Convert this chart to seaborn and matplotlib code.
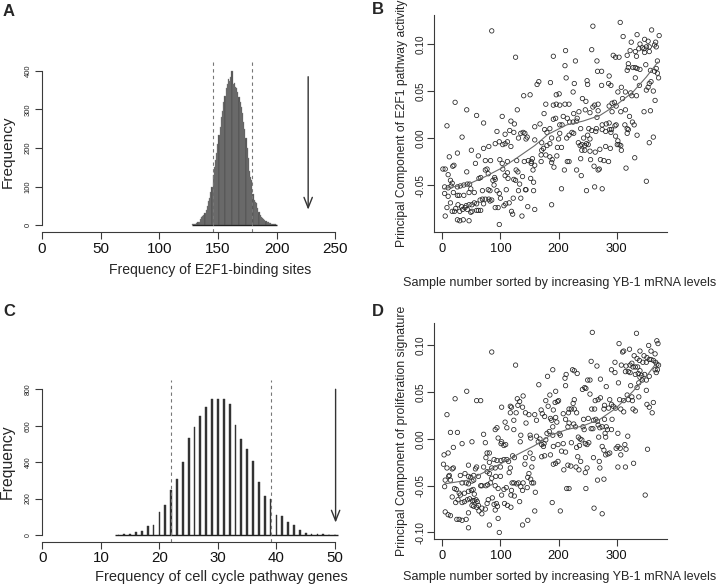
import numpy as np
import pandas as pd
import matplotlib
matplotlib.use("Agg")
import matplotlib.pyplot as plt
import seaborn as sns

sns.set_style("ticks")
plt.rcParams["font.family"] = ["Liberation Sans", "DejaVu Sans"]

W, H = 720, 588

# ---- panel A: permutation counts of E2F1-binding sites
e2f1_sites = list(range(128, 201))
e2f1_freq = [2, 2, 3, 4, 5, 7, 9, 15, 20, 24, 27, 32, 38, 50, 62, 70, 85, 100, 130, 150,
             170, 186, 210, 235, 255, 280, 295, 320, 335, 355, 365, 378, 375, 385, 400, 365, 370, 358, 355, 345,
             333, 320, 307, 290, 268, 250, 225, 200, 175, 140, 125, 117, 80, 65, 60, 56, 45, 33, 27, 22,
             18, 15, 12, 10, 8, 7, 5, 5, 4, 3, 2, 2, 1]
e2f1_cutoffs = [146, 179]
e2f1_observed = 227
e2f1_arrow = [385, 40]

# ---- panel C: permutation counts of cell cycle pathway genes
cc_genes = list(range(13, 51))
cc_freq = [1, 4, 4, 15, 22, 50, 55, 125, 163, 247, 308, 403, 533, 595, 653, 705, 749, 749, 749, 720,
           602, 527, 474, 405, 289, 214, 198, 112, 104, 73, 53, 27, 13, 7, 5, 4, 2, 2]
cc_cutoffs = [22, 39]
cc_observed = 50.1
cc_arrow = [800, 68]

# ---- panel B: E2F1 pathway activity vs sample rank
b_points = [
    (85, 0.114), (126, 0.086), (191, 0.087), (166, 0.060), (163, 0.057), (186, 0.059), (140, 0.045), (151, 0.046),
    (22, 0.038), (42, 0.030), (129, 0.030), (59, 0.024), (178, 0.036), (191, 0.035), (103, 0.023), (8, 0.013),
    (71, 0.016), (118, 0.018), (124, 0.015), (175, 0.026),
    (34, 0.001), (94, 0.007), (108, 0.004), (116, 0.008), (123, 0.006), (135, 0.005), (139, 0.006), (142, 0.005),
    (146, 0.001), (159, 0.012), (168, 0.015), (176, 0.009), (180, 0.006), (185, 0.010), (191, 0.020),
    (98, -0.004), (91, -0.006), (80, -0.009), (50, -0.013), (71, -0.011), (104, -0.007), (108, -0.006), (112, -0.004),
    (118, -0.009), (131, 0.000), (144, -0.001), (159, -0.002), (171, -0.005), (174, -0.011), (180, -0.008),
    (185, -0.006), (188, 0.000),
    (26, -0.016), (12, -0.020), (62, -0.019), (74, -0.024), (83, -0.024), (99, -0.023), (103, -0.027), (112, -0.025),
    (128, -0.024), (141, -0.025), (148, -0.024), (153, -0.025), (155, -0.022), (170, -0.018), (178, -0.018),
    (171, -0.013), (185, -0.020), (189, -0.023),
    (1, -0.033), (5, -0.033), (18, -0.030), (20, -0.029), (10, -0.039), (42, -0.036), (57, -0.027), (74, -0.034),
    (77, -0.033), (104, -0.033), (112, -0.037), (127, -0.034), (130, -0.036), (153, -0.027), (156, -0.034),
    (159, -0.029), (170, -0.025), (188, -0.026), (192, -0.031),
    (14, -0.045), (17, -0.048), (4, -0.052), (10, -0.053), (15, -0.051), (26, -0.052), (31, -0.051), (37, -0.050),
    (43, -0.049), (47, -0.049), (63, -0.043), (66, -0.042), (79, -0.038), (87, -0.045), (91, -0.044), (90, -0.042),
    (89, -0.050), (108, -0.040), (113, -0.043), (123, -0.044), (126, -0.045), (138, -0.041), (152, -0.043),
    (157, -0.047), (133, -0.049), (131, -0.056), (144, -0.055), (157, -0.056),
    (4, -0.059), (10, -0.062), (19, -0.058), (26, -0.061), (29, -0.061), (37, -0.061), (46, -0.058), (49, -0.054),
    (55, -0.058), (69, -0.056), (79, -0.055), (82, -0.056), (94, -0.056), (98, -0.059), (100, -0.064), (110, -0.055),
    (122, -0.064), (135, -0.064), (143, -0.055),
    (14, -0.069), (8, -0.074), (5, -0.083), (23, -0.075), (27, -0.071), (33, -0.073), (41, -0.072), (46, -0.071),
    (51, -0.071), (55, -0.069), (59, -0.070), (65, -0.066), (69, -0.065), (74, -0.065), (80, -0.065), (82, -0.067),
    (85, -0.066), (71, -0.070), (106, -0.072), (109, -0.070), (115, -0.069), (119, -0.078), (121, -0.081),
    (137, -0.083), (147, -0.073), (159, -0.076), (188, -0.071),
    (17, -0.078), (21, -0.078), (30, -0.078), (35, -0.076), (39, -0.074), (43, -0.076), (49, -0.079), (51, -0.078),
    (59, -0.077), (62, -0.077), (66, -0.077), (91, -0.074), (96, -0.074), (26, -0.087), (30, -0.088), (36, -0.087),
    (46, -0.088), (98, -0.092),
    (259, 0.119), (306, 0.123), (311, 0.108), (335, 0.110), (360, 0.115), (348, 0.105), (354, 0.103), (367, 0.102),
    (373, 0.109), (340, 0.100), (338, 0.095), (344, 0.096), (347, 0.095), (351, 0.097), (356, 0.097), (365, 0.099),
    (368, 0.097), (325, 0.102), (323, 0.093), (318, 0.088), (332, 0.092), (334, 0.087), (348, 0.091), (356, 0.092),
    (257, 0.094), (294, 0.088), (298, 0.086), (304, 0.086), (266, 0.082), (229, 0.082), (212, 0.093), (211, 0.077),
    (320, 0.079), (320, 0.075), (328, 0.075), (332, 0.075), (335, 0.074), (340, 0.073), (318, 0.072), (267, 0.071),
    (274, 0.071), (287, 0.066), (370, 0.082), (368, 0.074), (370, 0.069), (365, 0.071), (372, 0.064), (358, 0.072),
    (350, 0.078),
    (213, 0.064), (227, 0.058), (249, 0.061), (250, 0.057), (274, 0.056), (286, 0.058), (290, 0.056), (308, 0.054),
    (315, 0.049), (332, 0.064), (339, 0.056), (324, 0.048), (326, 0.045), (302, 0.049), (351, 0.051), (354, 0.054),
    (359, 0.060), (356, 0.058), (366, 0.040), (363, 0.050), (358, 0.029),
    (201, 0.047), (196, 0.046), (225, 0.049), (196, 0.036), (202, 0.035), (211, 0.036), (218, 0.036), (241, 0.042),
    (247, 0.039), (262, 0.035), (268, 0.036), (259, 0.033), (287, 0.034), (292, 0.037), (296, 0.038), (310, 0.042),
    (299, 0.034), (246, 0.030), (235, 0.028), (226, 0.026), (254, 0.027), (268, 0.029), (292, 0.028), (307, 0.028),
    (315, 0.030), (322, 0.023), (347, 0.028), (334, 0.045),
    (195, 0.021), (202, 0.014), (206, 0.014), (208, 0.023), (215, 0.021), (219, 0.017), (225, 0.017), (231, 0.018),
    (238, 0.010), (232, 0.021), (252, 0.010), (257, 0.008), (266, 0.022), (265, 0.010), (275, 0.014), (282, 0.015),
    (287, 0.016), (291, 0.009), (297, 0.013), (299, 0.014), (314, 0.014), (318, 0.010), (327, 0.017), (330, 0.014),
    (202, 0.005), (200, -0.001), (214, 0.000), (218, 0.003), (223, 0.006), (226, 0.005), (243, 0.000), (250, 0.003),
    (254, -0.001), (264, 0.007), (275, 0.009), (281, 0.007), (288, 0.009), (290, 0.006), (298, 0.002), (318, 0.005),
    (320, 0.009), (335, 0.003), (356, -0.005), (363, 0.001),
    (198, -0.010), (205, -0.010), (234, -0.005), (237, -0.008), (240, -0.007), (245, -0.008), (248, -0.006),
    (251, -0.007), (254, -0.014), (245, -0.013), (240, -0.013), (263, -0.015), (271, -0.012), (281, -0.009),
    (289, -0.011), (302, -0.003), (301, -0.007), (304, -0.007), (307, -0.008), (308, -0.013), (331, -0.021),
    (197, -0.019), (215, -0.025), (218, -0.025), (238, -0.022), (255, -0.023), (272, -0.023), (278, -0.024),
    (286, -0.025), (261, -0.030), (268, -0.034), (270, -0.033), (210, -0.034), (231, -0.034), (239, -0.040),
    (316, -0.032), (351, -0.046), (205, -0.054), (248, -0.056), (262, -0.052), (275, -0.054),
]
b_fit_x = [1, 45, 74, 102, 131, 159, 182, 214, 242, 271, 299, 328, 351, 371]
b_fit_y = [-0.054, -0.049, -0.041, -0.032, -0.020, -0.008, 0.004, 0.014, 0.018, 0.024, 0.035, 0.049, 0.065, 0.081]

# ---- panel D: proliferation signature vs sample rank
d_points = [
    (85, 0.093), (126, 0.079), (190, 0.074), (181, 0.067), (42, 0.051), (22, 0.043), (59, 0.041), (66, 0.041),
    (166, 0.058), (129, 0.043), (139, 0.046), (133, 0.040), (130, 0.036), (138, 0.034), (117, 0.035), (119, 0.034),
    (102, 0.034), (117, 0.028), (127, 0.028), (143, 0.028), (149, 0.026), (159, 0.026), (162, 0.020), (170, 0.031),
    (172, 0.027), (176, 0.024), (178, 0.041), (185, 0.047), (182, 0.035), (186, 0.022), (188, 0.020), (191, 0.031),
    (190, 0.013), (8, 0.026), (108, 0.018), (111, 0.012), (123, 0.020), (94, 0.012), (91, 0.010), (71, 0.005),
    (96, 0.001), (102, -0.003), (106, -0.007), (109, -0.006), (101, -0.005), (123, 0.010), (135, 0.004),
    (134, -0.003), (144, 0.017), (151, 0.004), (152, 0.001), (162, 0.003), (165, -0.003), (168, 0.000),
    (171, -0.006), (174, -0.008), (175, -0.005), (178, -0.001), (180, 0.006), (184, 0.008), (190, 0.004),
    (191, -0.008), (14, 0.007), (26, 0.007), (51, -0.003), (34, -0.005), (19, -0.009), (10, -0.015), (74, -0.004),
    (77, -0.015), (75, -0.020), (81, -0.015), (89, -0.022), (94, -0.023), (101, -0.023), (106, -0.022),
    (111, -0.022), (114, -0.024), (121, -0.018), (124, -0.020), (117, -0.031), (100, -0.030), (91, -0.031),
    (85, -0.031), (81, -0.025), (71, -0.030), (59, -0.030), (45, -0.028), (143, -0.020), (151, -0.015),
    (156, -0.021), (171, -0.019), (176, -0.018), (186, -0.017), (191, -0.027), (142, -0.027), (154, -0.030),
    (3, -0.017), (2, -0.027), (8, -0.031), (17, -0.032), (19, -0.031), (12, -0.039), (11, -0.040), (5, -0.044),
    (4, -0.051), (14, -0.044), (31, -0.039), (39, -0.037), (45, -0.040), (54, -0.039), (57, -0.032), (51, -0.045),
    (49, -0.041), (41, -0.047), (34, -0.047), (45, -0.048), (54, -0.044), (62, -0.040), (77, -0.035), (81, -0.037),
    (85, -0.042), (92, -0.040), (100, -0.040), (115, -0.036), (120, -0.047), (123, -0.047), (128, -0.048),
    (131, -0.047), (135, -0.051), (139, -0.047), (147, -0.041), (149, -0.037), (152, -0.043), (154, -0.047),
    (157, -0.047), (160, -0.057), (146, -0.052), (138, -0.055),
    (21, -0.053), (24, -0.054), (29, -0.058), (31, -0.060), (38, -0.058), (45, -0.056), (50, -0.055), (53, -0.054),
    (55, -0.059), (66, -0.050), (68, -0.050), (75, -0.050), (78, -0.049), (83, -0.047), (91, -0.050), (96, -0.053),
    (106, -0.054), (110, -0.052), (119, -0.055), (102, -0.060), (118, -0.060), (124, -0.061), (133, -0.067),
    (17, -0.062), (23, -0.068), (27, -0.065), (34, -0.068), (38, -0.067), (43, -0.065), (47, -0.064), (52, -0.066),
    (55, -0.066), (58, -0.065), (60, -0.067), (62, -0.071), (51, -0.071), (54, -0.072), (59, -0.073), (63, -0.077),
    (68, -0.074), (74, -0.075), (77, -0.069), (79, -0.065), (86, -0.063), (89, -0.070), (93, -0.069), (95, -0.072),
    (91, -0.076), (107, -0.069), (112, -0.071), (118, -0.073), (159, -0.077), (189, -0.068), (45, -0.079),
    (5, -0.078), (10, -0.081), (14, -0.082), (25, -0.086), (29, -0.086), (34, -0.087), (41, -0.086), (45, -0.095),
    (68, -0.080), (81, -0.092), (96, -0.085), (98, -0.100), (138, -0.092), (147, -0.087),
    (258, 0.114), (334, 0.113), (304, 0.102), (310, 0.093), (312, 0.094), (322, 0.096), (340, 0.094), (355, 0.100),
    (369, 0.105), (371, 0.102), (359, 0.094), (366, 0.091), (330, 0.089), (335, 0.086), (339, 0.084), (347, 0.089),
    (352, 0.087), (356, 0.085), (359, 0.085), (363, 0.084), (345, 0.082), (351, 0.082), (367, 0.082), (369, 0.080),
    (372, 0.079), (256, 0.083), (266, 0.078), (297, 0.082), (308, 0.079), (316, 0.078), (323, 0.079), (326, 0.081),
    (328, 0.077), (332, 0.077), (336, 0.077), (320, 0.072), (315, 0.072), (323, 0.071), (332, 0.069), (337, 0.070),
    (340, 0.066), (343, 0.068), (348, 0.069), (344, 0.063), (338, 0.060), (340, 0.073), (351, 0.063), (356, 0.067),
    (366, 0.074), (368, 0.071), (370, 0.074),
    (213, 0.069), (211, 0.065), (224, 0.074), (227, 0.073), (232, 0.070), (250, 0.063), (254, 0.063), (272, 0.064),
    (291, 0.074), (297, 0.071), (282, 0.056), (303, 0.060), (324, 0.057), (335, 0.055), (351, 0.052), (318, 0.047),
    (305, 0.042), (312, 0.041), (320, 0.042), (326, 0.045), (327, 0.041), (338, 0.045), (352, 0.037), (363, 0.039),
    (356, 0.034), (361, 0.028), (328, 0.032), (332, 0.030), (312, 0.029), (307, 0.032),
    (195, 0.051), (212, 0.057), (241, 0.053), (245, 0.055), (247, 0.054), (254, 0.048), (263, 0.041), (268, 0.042),
    (272, 0.044), (288, 0.042), (279, 0.036), (291, 0.037), (294, 0.035), (298, 0.033), (286, 0.033), (278, 0.032),
    (257, 0.032), (262, 0.032), (227, 0.042), (225, 0.038), (194, 0.039), (198, 0.040), (200, 0.041), (208, 0.027),
    (218, 0.032), (222, 0.032), (227, 0.032), (231, 0.028), (217, 0.028), (195, 0.023), (197, 0.018), (212, 0.021),
    (218, 0.017), (226, 0.016), (243, 0.021), (251, 0.022), (260, 0.020), (264, 0.021), (267, 0.019), (279, 0.021),
    (292, 0.021), (282, 0.013), (271, 0.012),
    (201, 0.006), (203, 0.004), (216, 0.013), (229, 0.013), (242, 0.013), (244, 0.010), (256, 0.011), (259, 0.011),
    (268, 0.015), (275, 0.013), (284, 0.010), (291, 0.010), (280, 0.006), (269, 0.002), (281, 0.002), (302, 0.006),
    (319, 0.003), (199, -0.006), (208, -0.005), (222, -0.004), (234, 0.002), (237, 0.000), (240, -0.001),
    (246, -0.005), (252, -0.004), (249, -0.006), (231, -0.009), (236, -0.007), (275, -0.008), (278, -0.012),
    (281, -0.017), (285, -0.016), (288, -0.015), (302, -0.008), (306, -0.010), (314, -0.006), (316, -0.011),
    (299, -0.010), (353, -0.011),
    (195, -0.026), (199, -0.024), (205, -0.013), (212, -0.014), (216, -0.028), (221, -0.029), (230, -0.030),
    (233, -0.019), (238, -0.024), (235, -0.033), (246, -0.036), (249, -0.031), (260, -0.020), (270, -0.024),
    (271, -0.031), (307, -0.017), (302, -0.030), (315, -0.030), (329, -0.026), (209, -0.033), (267, -0.044),
    (278, -0.043), (214, -0.053), (218, -0.053), (247, -0.053), (349, -0.060), (203, -0.077), (261, -0.074),
    (275, -0.080),
]
d_fit_x = [4, 45, 74, 102, 131, 159, 186, 214, 242, 271, 299, 328, 351, 368]
d_fit_y = [-0.048, -0.044, -0.035, -0.026, -0.016, -0.007, 0.004, 0.010, 0.014, 0.021, 0.033, 0.051, 0.067, 0.081]

b = pd.DataFrame(b_points, columns=["sample", "pc"])
d = pd.DataFrame(d_points, columns=["sample", "pc"])

AX_COL = "#3a3a3a"


def box(left, top, right, bottom):
    return [left / W, 1 - bottom / H, (right - left) / W, (bottom - top) / H]


def ftext(x, y, s, **kw):
    fig.text(x / W, 1 - y / H, s, ha="center", va="center", **kw)


def style_axes(ax, xsize, ysize, xpad, ypad):
    sns.despine(ax=ax)
    for sp in ("left", "bottom"):
        ax.spines[sp].set_color(AX_COL)
        ax.spines[sp].set_linewidth(0.8)
    ax.tick_params(axis="x", length=5, width=0.8, color=AX_COL, labelsize=xsize, pad=xpad, labelcolor="#111")
    ax.tick_params(axis="y", length=5, width=0.8, color=AX_COL, labelsize=ysize, pad=ypad, labelcolor="#222")
    plt.setp(ax.get_yticklabels(), rotation=90, va="center")
    ax.set_xlabel("")
    ax.set_ylabel("")


def hist_panel(ax, cats, freq, cutoffs, observed, arrow, shrink, color, edge, lw):
    sns.histplot(x=cats, weights=freq, discrete=True, shrink=shrink, color=color,
                 edgecolor=edge, linewidth=lw, alpha=1, ax=ax)
    ax.hlines(0, min(cats) - 0.5, max(cats) + 0.5, color="#222", lw=1)
    for c in cutoffs:
        ax.axvline(c, color="#777", lw=0.8, ls=(0, (3, 3)))
    ax.annotate("", xy=(observed, arrow[1]), xytext=(observed, arrow[0]),
                arrowprops=dict(arrowstyle="->,head_length=0.75,head_width=0.3",
                                color="#333", lw=1, shrinkA=0, shrinkB=0))


fig = plt.figure(figsize=(W / 100, H / 100), dpi=100)

# A
ax = fig.add_axes(box(42, 59, 341, 232))
hist_panel(ax, e2f1_sites, e2f1_freq, e2f1_cutoffs, e2f1_observed, e2f1_arrow, 1, "#4f4f4f", "#8a8a8a", 0.25)
ax.set_xlim(0, 255)
ax.set_ylim(-18, 431)
ax.set_xticks([0, 50, 100, 150, 200, 250])
ax.set_yticks([0, 100, 200, 300, 400])
style_axes(ax, 11, 5.5, 2.5, 2.5)
ax.spines["left"].set_bounds(0, 400)
ax.spines["bottom"].set_bounds(0, 250)

# C
ax = fig.add_axes(box(42.3, 380, 343.8, 541.7))
hist_panel(ax, cc_genes, cc_freq, cc_cutoffs, cc_observed, cc_arrow, 0.3, "#333333", "#333333", 0.3)
ax.set_xlim(0, 51.5)
ax.set_ylim(-37, 851)
ax.set_xticks([0, 10, 20, 30, 40, 50])
ax.set_yticks([0, 200, 400, 600, 800])
style_axes(ax, 10.8, 5, 1.5, 2.5)
ax.spines["left"].set_bounds(0, 800)
ax.spines["bottom"].set_bounds(0, 50)


def scatter_panel(ax, df, fx, fy, yticks, ylim):
    sns.scatterplot(data=df, x="sample", y="pc", marker="o", s=10, fc="none", ec="#222",
                    linewidth=0.55, ax=ax)
    sns.lineplot(x=fx, y=fy, color="#6a6a6a", lw=0.8, ax=ax)
    ax.set_xlim(-14.3, 386.5)
    ax.set_ylim(*ylim)
    ax.set_xticks([0, 100, 200, 300])
    ax.set_yticks(yticks, labels=[f"{t:.2f}" for t in yticks])
    style_axes(ax, 9.3, 7.2, 2.5, 0.8)


# B
ax = fig.add_axes(box(434, 15, 667, 232.3))
scatter_panel(ax, b, b_fit_x, b_fit_y, [-0.05, 0.0, 0.05, 0.10], (-0.1003, 0.1309))

# D
ax = fig.add_axes(box(434, 323.3, 667, 539.3))
scatter_panel(ax, d, d_fit_x, d_fit_y, [-0.10, -0.05, 0.0, 0.05, 0.10], (-0.1073, 0.1237))

# axis titles and panel letters
ftext(210, 270, "Frequency of E2F1-binding sites", fontsize=10.1)
ftext(8, 152, "Frequency", fontsize=11.1, rotation=90)
ftext(221.7, 576.7, "Frequency of cell cycle pathway genes", fontsize=10.5)
ftext(7, 462, "Frequency", fontsize=11.3, rotation=90)
ftext(560, 283, "Sample number sorted by increasing YB-1 mRNA levels", fontsize=9.1)
ftext(401.7, 123, "Principal Component of E2F1 pathway activity", fontsize=8.7, rotation=90)
ftext(560, 576.7, "Sample number sorted by increasing YB-1 mRNA levels", fontsize=9.1)
ftext(401.7, 431, "Principal Component of proliferation signature", fontsize=8.8, rotation=90)
for lab, x, y in [("A", 9, 11), ("B", 378, 9), ("C", 9, 312), ("D", 378, 312)]:
    ftext(x, y, lab, fontsize=12, fontweight="bold")

fig.savefig("out.png", dpi=100)
